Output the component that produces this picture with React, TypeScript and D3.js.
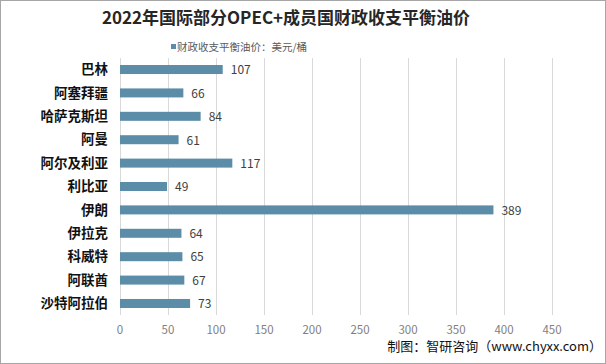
import React from "react";
import * as d3 from "d3";

const categories = ["巴林", "阿塞拜疆", "哈萨克斯坦", "阿曼", "阿尔及利亚", "利比亚", "伊朗", "伊拉克", "科威特", "阿联酋", "沙特阿拉伯"];
const values = [107, 66, 84, 61, 117, 49, 389, 64, 65, 67, 73];
const xTicks = [0, 50, 100, 150, 200, 250, 300, 350, 400, 450];
const title = "2022年国际部分OPEC+成员国财政收支平衡油价";
const legendLabel = "财政收支平衡油价：美元/桶";
const source = "制图：智研咨询（www.chyxx.com）";

const W = 606;
const H = 364;
const font = "'Microsoft YaHei', 'Noto Sans CJK SC', sans-serif";

export default function App() {
  const x = d3.scaleLinear().domain([0, 450]).range([120, 552]);
  const y = d3.scaleBand<string>().domain(categories).range([58, 315]).paddingInner(0.615).paddingOuter(0.3);
  const barColor = "#5b8da8";
  return (
    <svg width={W} height={H} style={{ position: "absolute", left: 0, top: 0, background: "#fff" }} fontFamily={font}>
      <rect x={0.5} y={0.5} width={W - 1} height={H - 1} fill="#fff" stroke="#a6a6a6" />
      <text x={286} y={24} textAnchor="middle" fontSize={17} fontWeight="bold" fill="#262626">{title}</text>
      <rect x={171} y={44} width={5} height={5} fill={barColor} />
      <text x={177} y={51} fontSize={10.5} fill="#595959">{legendLabel}</text>
      {xTicks.map((t) => (
        <g key={t}>
          <line x1={Math.round(x(t)) + 0.5} x2={Math.round(x(t)) + 0.5} y1={58} y2={315} stroke="#d9d9d9" />
          <text x={x(t)} y={334} textAnchor="middle" fontSize={11.5} fill="#808080">{t}</text>
        </g>
      ))}
      {categories.map((c, i) => {
        const yy = y(c)!;
        const bw = y.bandwidth();
        return (
          <g key={c}>
            <rect x={x(0)} y={yy} width={x(values[i]) - x(0)} height={bw} fill={barColor} />
            <text x={108} y={yy + bw / 2} dy="0.35em" textAnchor="end" fontSize={13.5} fontWeight="bold" fill="#111">{c}</text>
            <text x={x(values[i]) + 8} y={yy + bw / 2} dy="0.4em" fontSize={12} fill="#404040">{values[i]}</text>
          </g>
        );
      })}
      <text x={602} y={351} textAnchor="end" fontSize={13} fill="#111">{source}</text>
    </svg>
  );
}
